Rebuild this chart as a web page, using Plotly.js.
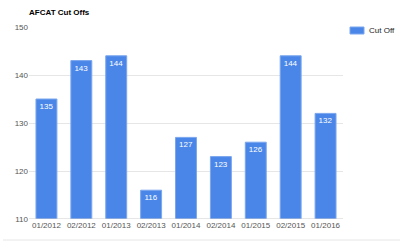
<!DOCTYPE html>
<html><head><meta charset="utf-8">
<script src="https://cdn.plot.ly/plotly-3.0.1.min.js"></script>
<style>html,body{margin:0;padding:0;background:#fff}#c{width:400px;height:242px}</style>
</head><body><div id="c"></div>
<script>
const categories = ["01/2012","02/2012","01/2013","02/2013","01/2014","02/2014","01/2015","02/2015","01/2016"];
const cutOff = [135,143,144,116,127,123,126,144,132];
const seriesName = "Cut Off";
const chartTitle = "AFCAT Cut Offs";

const PW = 314, PH = 192; // plot area size in px
const px = v => (v - 29) / PW;      // container x px -> paper
const py = v => (219 - v) / PH;     // container y px -> paper

Plotly.newPlot('c', [{
  type: 'bar', x: categories, y: cutOff, name: seriesName,
  marker: {color: '#4a86e8', line: {color: '#7aa6ee', width: 1}},
  text: cutOff.map(String), textposition: 'inside', insidetextanchor: 'end',
  textfont: {color: '#ffffff', size: 8, family: 'Arial, Liberation Sans, sans-serif'},
  textangle: 0, hoverinfo: 'none', showlegend: false
}], {
  width: 400, height: 242,
  margin: {l: 29, r: 57, t: 27, b: 23},
  paper_bgcolor: '#fff', plot_bgcolor: '#fff',
  bargap: 0.4,
  font: {family: 'Arial, Liberation Sans, sans-serif', size: 8, color: '#555'},
  title: {text: '<b>' + chartTitle + '</b>', x: 29/400, xanchor: 'left', y: 1 - 12/242, yanchor: 'middle',
          font: {size: 8, color: '#000'}},
  xaxis: {type: 'category', tickfont: {size: 8, color: '#555'}, showgrid: false, zeroline: false,
          showline: false, ticks: '', automargin: false},
  yaxis: {range: [110, 150], dtick: 10, tickfont: {size: 8, color: '#555'}, gridcolor: '#e6e6e6',
          zeroline: false, showline: false, ticks: '', ticklen: 0, automargin: false},
  showlegend: false,
  shapes: [
    {type: 'line', xref: 'paper', yref: 'y', x0: 0, x1: 1, y0: 110, y1: 110, line: {color: '#cccccc', width: 1}},
    {type: 'line', xref: 'paper', yref: 'paper', x0: px(3), x1: px(400), y0: py(240), y1: py(240), line: {color: '#e6e6e6', width: 1}},
    {type: 'rect', xref: 'paper', yref: 'paper', x0: px(350), x1: px(364), y0: py(34), y1: py(27),
     fillcolor: '#4a86e8', line: {color: '#7aa6ee', width: 1}}
  ],
  annotations: [
    {xref: 'paper', yref: 'paper', x: px(367), y: py(30.5), xanchor: 'left', yanchor: 'middle',
     text: seriesName, showarrow: false, font: {size: 8, color: '#222'}}
  ]
}, {staticPlot: true});
</script></body></html>
